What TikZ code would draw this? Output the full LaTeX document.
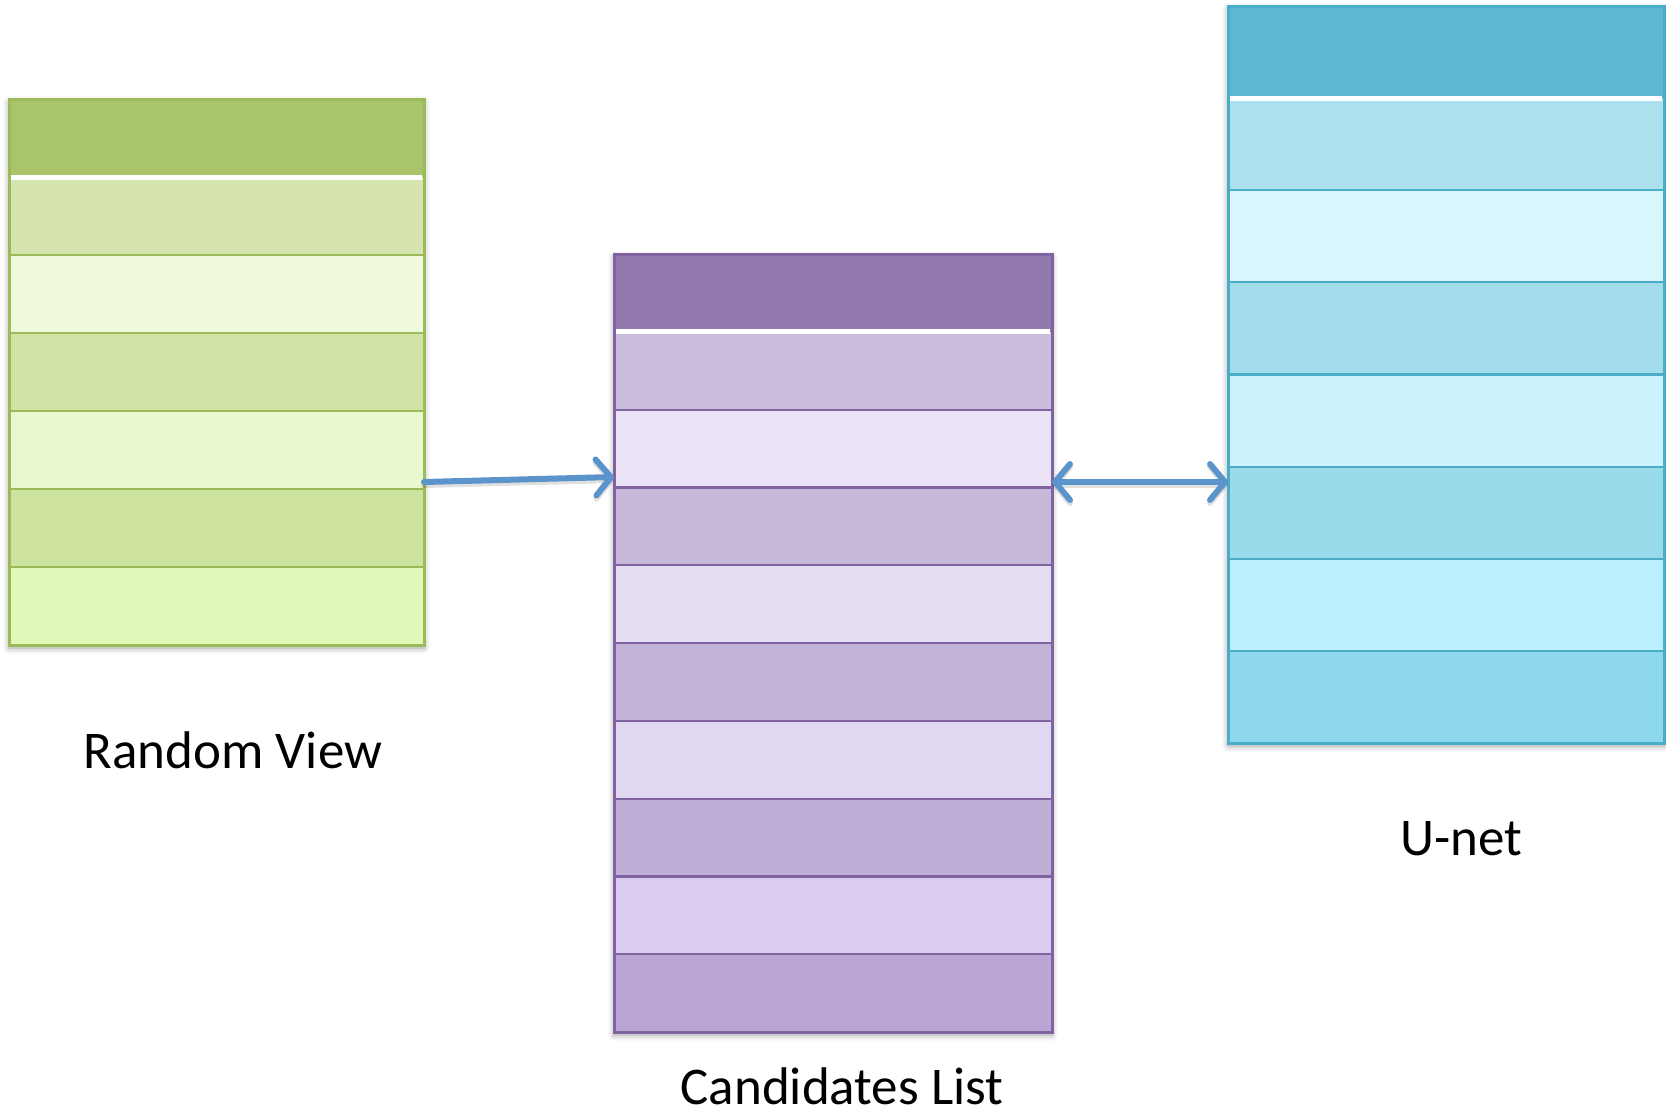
\documentclass[tikz,border=0pt]{standalone}
\usepackage{fontspec}
\setmainfont{Carlito}
\usetikzlibrary{arrows.meta,shadows.blur}

% row fills of the three lists
\definecolor{gHead}{HTML}{AAC46C}\definecolor{gLine}{HTML}{9BBB59}
\definecolor{gA}{HTML}{D6E5B0}\definecolor{gB}{HTML}{EEFADB}
\definecolor{gC}{HTML}{D2E3A6}\definecolor{gD}{HTML}{EAF8D0}
\definecolor{gE}{HTML}{CEE39D}\definecolor{gF}{HTML}{E1F9B8}
\definecolor{pHead}{HTML}{9279B0}\definecolor{pLine}{HTML}{8064A2}
\definecolor{pA}{HTML}{CBBDDC}\definecolor{pB}{HTML}{EBE4F6}
\definecolor{pC}{HTML}{C7B8DA}\definecolor{pD}{HTML}{E5DDF3}
\definecolor{pE}{HTML}{C3B3D8}\definecolor{pF}{HTML}{E0D7F0}
\definecolor{pG}{HTML}{BFAED6}\definecolor{pH}{HTML}{DACCEE}
\definecolor{pI}{HTML}{B9A6D4}
\definecolor{bHead}{HTML}{5BB7D2}\definecolor{bLine}{HTML}{4BACC6}
\definecolor{bA}{HTML}{ABE0EC}\definecolor{bB}{HTML}{DAF6FD}
\definecolor{bC}{HTML}{A3DDEB}\definecolor{bD}{HTML}{CBF2FD}
\definecolor{bE}{HTML}{99DBEB}\definecolor{bF}{HTML}{BAEFFD}
\definecolor{bG}{HTML}{8DD8EC}
\definecolor{arrowblue}{HTML}{5B93CB}

\tikzset{
  listframe/.style={rectangle, inner sep=0pt, outer sep=0pt, fill=white,
    blur shadow={shadow xshift=0pt, shadow yshift=-3pt,
                 shadow blur radius=6pt, shadow opacity=40}},
  barb/.tip={Straight Barb[round, length=15pt, width=36pt]},
  link/.style={draw=arrowblue, line width=6pt, line cap=round, -barb},
  linkboth/.style={link, barb-barb},
  caption/.style={anchor=base, inner sep=0pt, font=\fontsize{53}{63}\selectfont}
}

% #1 name, #2 left, #3 top, #4 right, #5 bottom, #6 rows, #7 line colour, #8 fills
\newcommand\rowtable[8]{%
  \pgfmathsetmacro\rowh{(#5-#3)/#6}%
  \pgfmathtruncatemacro\lastk{#6-1}%
  \node[listframe, minimum width={#4-#2}, minimum height={#5-#3}]
    (#1) at ({(#2+#4)/2},{(#3+#5)/2}) {};
  \foreach \c [count=\i from 0] in {#8}
    \fill[\c] (#2,{#3+\i*\rowh}) rectangle (#4,{#3+(\i+1)*\rowh});
  \foreach \k in {2,...,\lastk}
    \draw[#7, line width=2.2pt] (#2,{#3+\k*\rowh}) -- (#4,{#3+\k*\rowh});
  \draw[white, line width=5pt] ({#2+2},{#3+\rowh}) -- ({#4-2},{#3+\rowh});
  \draw[#7, line width=3pt] (#1.north west) rectangle (#1.south east);
}

\begin{document}
\begin{tikzpicture}[x=1pt, y=-1pt]
\useasboundingbox (0,0) rectangle (1666,1111);

\rowtable{rv}{9}{99}{424}{645}{7}{gLine}{gHead,gA,gB,gC,gD,gE,gF}
\rowtable{cl}{614}{254}{1052}{1032}{10}{pLine}{pHead,pA,pB,pC,pD,pE,pF,pG,pH,pI}
\rowtable{un}{1228}{6}{1664}{743}{8}{bLine}{bHead,bA,bB,bC,bD,bE,bF,bG}

% connectors with a faint shadow underneath
\draw[link, draw=black, opacity=0.12, transform canvas={yshift=-3pt}]
  ([yshift=-110pt]rv.east) -- ([yshift=166pt]cl.west);
\draw[linkboth, draw=black, opacity=0.12, transform canvas={yshift=-3pt}]
  ([yshift=161pt]cl.east) -- ([yshift=-107.5pt]un.west);
\draw[link] ([yshift=-110pt]rv.east) -- ([yshift=166pt]cl.west);
\draw[linkboth] ([yshift=161pt]cl.east) -- ([yshift=-107.5pt]un.west);

\node[caption] (rvlabel) at (233,768) {Random View};
\node[caption] (cllabel) at (842,1104) {Candidates List};
\node[caption] (unlabel) at (1461,855) {U-net};
\end{tikzpicture}
\end{document}
